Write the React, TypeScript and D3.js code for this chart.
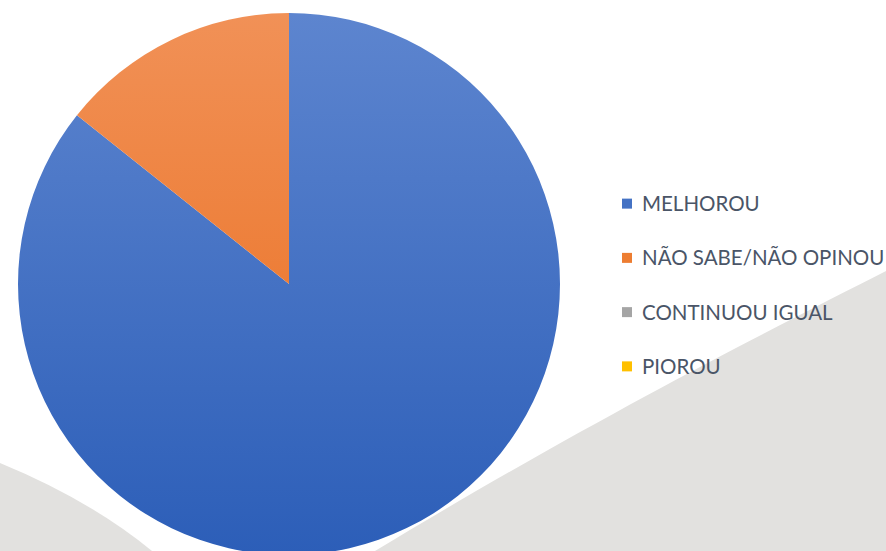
import React from "react";
import * as d3 from "d3";

const categories = ["MELHOROU", "NÃO SABE/NÃO OPINOU", "CONTINUOU IGUAL", "PIOROU"];
const values = [85.7, 14.3, 0, 0];
const colors = ["#4472c4", "#ed7d31", "#a5a5a5", "#ffc000"];
const gradTop = ["#5d85cf", "#f19157", "#b5b5b5", "#ffcc33"];
const gradBottom = ["#2c5eb8", "#e96a18", "#959595", "#f0b400"];

const W = 886;
const H = 551;

export default function App() {
  const cx = 289;
  const cy = 284;
  const r = 271;
  const data = categories.map((c, i) => ({ c, v: values[i], i }));
  const pie = d3.pie<any>().sort(null).value((d: any) => d.v).startAngle(0).endAngle(2 * Math.PI);
  const arcs = pie(data);
  const arc = d3.arc<any>().innerRadius(0).outerRadius(r);

  const legendY = d3.scaleBand().domain(categories).range([176, 393]);

  return (
    <svg
      width={W}
      height={H}
      style={{ position: "absolute", left: 0, top: 0, display: "block", background: "#ffffff" }}
    >
      <defs>
        {categories.map((c, i) => (
          <linearGradient
            key={c}
            id={"g" + i}
            gradientUnits="userSpaceOnUse"
            x1={0}
            y1={-r}
            x2={0}
            y2={r}
          >
            <stop offset="0" stopColor={gradTop[i]} />
            <stop offset="1" stopColor={gradBottom[i]} />
          </linearGradient>
        ))}
      </defs>
      <rect x={0} y={0} width={W} height={H} fill="#ffffff" />
      <path d="M0,463 Q90,500 152,551 L0,551 Z" fill="#e2e1df" />
      <path d="M886,271 C780,325 600,415 375,551 L886,551 Z" fill="#e2e1df" />
      <g transform={`translate(${cx},${cy})`}>
        {arcs.map((a) =>
          a.endAngle - a.startAngle > 0 ? (
            <path key={a.data.c} d={arc(a) as string} fill={`url(#g${a.data.i})`} />
          ) : null
        )}
      </g>
      <g>
        {categories.map((c, i) => {
          const y = (legendY(c) as number) + legendY.bandwidth() / 2;
          return (
            <g key={c}>
              <rect x={622} y={y - 4.5} width={10} height={10} fill={colors[i]} />
              <text
                x={642}
                y={y + 8}
                fontFamily="Lato, 'Open Sans', sans-serif"
                fontSize={20.5}
                fill="#4a5567"
              >
                {c}
              </text>
            </g>
          );
        })}
      </g>
    </svg>
  );
}
